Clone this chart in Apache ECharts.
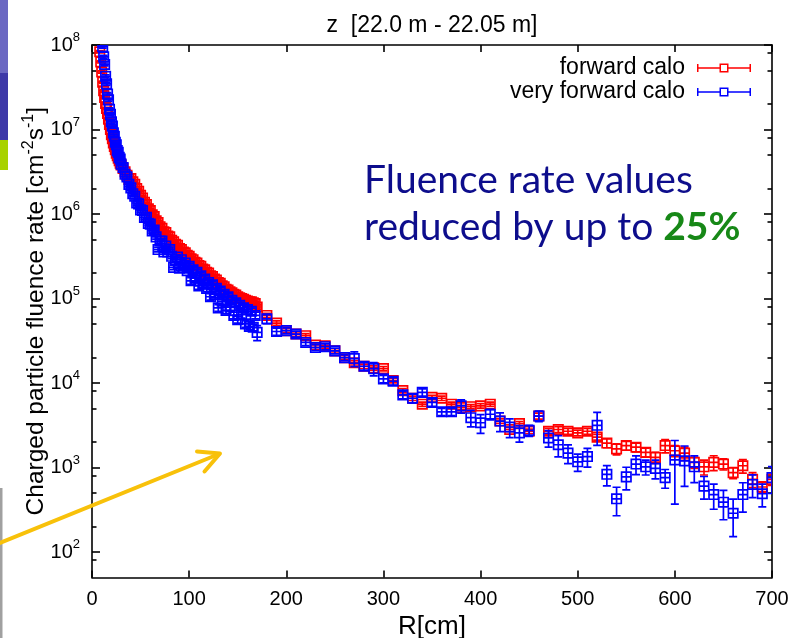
<!DOCTYPE html>
<html>
<head>
<meta charset="utf-8">
<script src="https://cdn.jsdelivr.net/npm/echarts@6/dist/echarts.min.js"></script>
<style>
  html, body { margin: 0; padding: 0; background: #fff; }
  #chart { width: 794px; height: 638px; }
</style>
</head>
<body>
<div id="chart"></div>
<script>
// Charged particle fluence rate vs radius, z in [22.0 m, 22.05 m]
// radius in cm, rate in cm^-2 s^-1, error as relative 1-sigma

const fwdR = [8, 9, 10, 11, 12, 13, 14, 15, 16, 17, 18, 19, 20, 21, 22, 23, 24, 25, 26, 27, 28, 29, 30,
  32, 34, 36, 38, 40, 42, 44, 46, 48, 50, 52, 54, 56, 58, 60, 62, 64, 66, 68, 70, 72, 74, 76, 78, 80,
  82, 84, 86, 88, 90, 92, 94, 96, 98, 100, 102, 104, 106, 108, 110, 112, 114, 116, 118, 120, 122, 124,
  126, 128, 130, 132, 134, 136, 138, 140, 142, 144, 146, 148, 150, 152, 154, 156, 158, 160, 162, 164, 166, 168,
  170, 180, 190, 200, 210, 220, 230, 240, 250, 260, 270, 280, 290, 300, 310, 320, 330, 340, 350, 360,
  370, 380, 390, 400, 410, 420, 430, 440, 450, 460, 470, 480, 490, 500, 510, 520, 530, 540, 550, 560,
  570, 580, 590, 600, 610, 620, 630, 640, 650, 660, 670, 680, 690, 700];

const fwdRate = [8.32e7, 6.31e7, 4.79e7, 3.63e7, 2.88e7, 2.40e7, 2.04e7, 1.78e7, 1.55e7, 1.32e7, 1.15e7, 1.00e7,
  8.71e6, 7.76e6, 6.92e6, 6.31e6, 5.75e6, 5.25e6, 4.90e6, 4.57e6, 4.27e6, 3.98e6, 3.80e6,
  3.47e6, 3.16e6, 2.88e6, 2.57e6, 2.63e6, 2.40e6, 2.24e6, 2.00e6, 1.86e6, 1.66e6, 1.55e6, 1.38e6, 1.29e6,
  1.15e6, 1.10e6, 9.77e5, 9.33e5, 8.32e5, 7.94e5, 7.08e5, 6.76e5, 6.17e5, 6.03e5, 5.50e5, 5.37e5,
  4.90e5, 4.68e5, 4.37e5, 4.27e5, 3.89e5, 3.80e5, 3.55e5, 3.47e5, 3.24e5, 3.16e5, 2.95e5, 2.88e5,
  2.69e5, 2.63e5, 2.45e5, 2.40e5, 2.24e5, 2.19e5, 2.04e5, 2.00e5, 1.86e5, 1.82e5, 1.70e5, 1.66e5,
  1.55e5, 1.51e5, 1.41e5, 1.38e5, 1.29e5, 1.26e5, 1.20e5, 1.17e5, 1.12e5, 1.10e5, 1.05e5, 1.02e5,
  1.00e5, 9.77e4, 9.55e4, 9.33e4, 9.12e4, 9.12e4, 8.91e4, 8.71e4,
  7.94e4, 6.31e4, 5.13e4, 4.17e4, 3.80e4, 3.63e4, 2.82e4, 2.75e4, 2.40e4, 2.00e4, 1.74e4, 1.58e4,
  1.51e4, 1.48e4, 1.07e4, 8.13e3, 6.61e3, 5.62e3, 6.76e3, 6.61e3, 5.62e3, 5.13e3, 5.25e3, 5.37e3,
  5.62e3, 3.55e3, 2.82e3, 3.31e3, 2.69e3, 4.07e3, 2.69e3, 2.82e3, 2.69e3, 2.57e3, 2.69e3, 2.29e3,
  1.95e3, 1.66e3, 1.82e3, 1.74e3, 1.51e3, 1.32e3, 1.82e3, 1.58e3, 1.48e3, 1.15e3, 1.02e3, 1.15e3,
  1.10e3, 871, 1.05e3, 724, 589, 724];

const fwdErr = [0.03, 0.03, 0.03, 0.03, 0.03, 0.03, 0.03, 0.03, 0.03, 0.03, 0.03, 0.03, 0.03, 0.03, 0.03,
  0.03, 0.03, 0.03, 0.03, 0.03, 0.03, 0.03, 0.03,
  0.05, 0.05, 0.05, 0.05, 0.05, 0.05, 0.05, 0.05, 0.05, 0.05, 0.05, 0.05, 0.05, 0.05, 0.05, 0.05, 0.05,
  0.05, 0.05, 0.05, 0.05, 0.05, 0.05, 0.05, 0.05, 0.05, 0.05, 0.05, 0.05, 0.05, 0.05, 0.05, 0.05, 0.05,
  0.06, 0.06, 0.06, 0.06, 0.06, 0.06, 0.06, 0.06, 0.06, 0.06, 0.06, 0.06, 0.06, 0.06, 0.06, 0.06, 0.06,
  0.06, 0.06, 0.06, 0.06, 0.06, 0.06, 0.06, 0.06, 0.06, 0.06, 0.06, 0.06, 0.06, 0.06, 0.06, 0.06, 0.06, 0.06,
  0.06, 0.06, 0.06, 0.06, 0.06, 0.06, 0.06, 0.06, 0.06, 0.06, 0.06, 0.06, 0.06, 0.06, 0.06, 0.06, 0.06,
  0.06, 0.06, 0.06, 0.06, 0.06, 0.06, 0.06, 0.06, 0.06, 0.06, 0.06, 0.06,
  0.08, 0.08, 0.08, 0.08, 0.08, 0.08, 0.08, 0.12, 0.15, 0.12, 0.12, 0.12, 0.15, 0.18, 0.15, 0.18, 0.15,
  0.2, 0.2, 0.15, 0.15, 0.18, 0.2, 0.15, 0.15];

const vfwdR = [11, 12, 13, 14, 15, 16, 17, 18, 19, 20, 21, 22, 23, 24, 25, 26, 27, 28, 29, 30,
  32, 34, 36, 38, 40, 42, 44, 46, 48, 50, 52, 54, 56, 58, 60, 62, 64, 66, 68, 70, 72, 74, 76, 78, 80,
  82, 84, 86, 88, 90, 92, 94, 96, 98, 100, 102, 104, 106, 108, 110, 112, 114, 116, 118, 120, 122, 124,
  126, 128, 130, 132, 134, 136, 138, 140, 142, 144, 146, 148, 150, 152, 154, 156, 158, 160, 162, 164, 166, 168,
  170, 180, 190, 200, 210, 220, 230, 240, 250, 260, 270, 280, 290, 300, 310, 320, 330, 340, 350, 360,
  370, 380, 390, 400, 410, 420, 430, 440, 450, 460, 470, 480, 490, 500, 510, 520, 530, 540, 550, 560,
  570, 580, 590, 600, 610, 620, 630, 640, 650, 660, 670, 680, 690, 700];

const vfwdRate = [9.55e7, 7.24e7, 5.89e7, 4.27e7, 3.47e7, 2.63e7, 2.24e7, 1.74e7, 1.51e7, 1.23e7, 1.10e7,
  9.12e6, 8.32e6, 7.08e6, 6.61e6, 5.62e6, 5.37e6, 4.68e6, 4.47e6, 3.89e6,
  3.55e6, 2.95e6, 2.75e6, 2.24e6, 2.04e6, 1.74e6, 1.62e6, 1.35e6, 1.32e6, 1.12e6,
  1.10e6, 9.12e5, 9.12e5, 7.76e5, 7.59e5, 6.31e5, 6.46e5, 5.37e5, 3.80e5, 4.79e5,
  4.79e5, 3.55e5, 4.17e5, 3.55e5, 3.80e5, 3.16e5, 2.34e5, 2.88e5, 3.09e5, 2.29e5,
  2.88e5, 2.34e5, 2.63e5, 2.14e5, 2.40e5, 1.62e5, 2.19e5, 1.74e5, 2.04e5, 1.41e5,
  1.86e5, 1.48e5, 1.70e5, 1.32e5, 1.55e5, 1.05e5, 1.45e5, 1.12e5, 1.32e5, 7.76e4,
  1.23e5, 9.33e4, 1.12e5, 7.24e4, 1.05e5, 7.94e4, 9.55e4, 6.31e4, 8.91e4, 5.62e4,
  8.32e4, 6.46e4, 7.76e4, 5.01e4, 7.41e4, 4.68e4, 7.08e4, 4.57e4, 6.31e4,
  3.98e4, 5.75e4, 4.07e4, 4.17e4, 3.80e4, 3.02e4, 2.63e4, 2.69e4, 2.40e4, 2.00e4, 1.95e4, 1.58e4,
  1.48e4, 1.12e4, 1.05e4, 7.24e3, 6.61e3, 7.76e3, 5.89e3, 4.57e3, 4.57e3, 5.37e3, 3.89e3, 3.39e3,
  4.27e3, 3.55e3, 3.02e3, 2.57e3, 2.75e3, 4.07e3, 2.24e3, 1.86e3, 1.48e3, 1.17e3, 1.35e3, 3.16e3,
  832, 427, 776, 1.10e3, 1.02e3, 977, 759, 1.23e3, 1.20e3, 1.02e3, 603, 479, 389, 288, 479, 631, 490, 759];

const vfwdErr = [0.04, 0.04, 0.04, 0.04, 0.04, 0.04, 0.04, 0.04, 0.04, 0.04, 0.04, 0.04, 0.04, 0.04, 0.04,
  0.04, 0.04, 0.04, 0.04, 0.04,
  0.06, 0.06, 0.06, 0.06, 0.06, 0.06, 0.06, 0.06, 0.06, 0.06, 0.06, 0.06, 0.06, 0.06, 0.06, 0.06, 0.06,
  0.06, 0.06, 0.06, 0.06, 0.06, 0.06, 0.06, 0.06, 0.06, 0.06, 0.06, 0.06, 0.06, 0.06, 0.06, 0.06, 0.06,
  0.09, 0.09, 0.09, 0.09, 0.09, 0.09, 0.09, 0.09, 0.09, 0.09, 0.09, 0.09, 0.09, 0.09, 0.09, 0.09, 0.09,
  0.09, 0.09, 0.09, 0.09, 0.09, 0.09, 0.09, 0.09, 0.09, 0.09, 0.09, 0.09, 0.09, 0.09, 0.09, 0.09, 0.09, 0.09,
  0.2, 0.12, 0.1, 0.08, 0.08, 0.08, 0.08, 0.08, 0.08, 0.08, 0.2, 0.1, 0.18, 0.1, 0.1, 0.1, 0.12, 0.1,
  0.1, 0.1, 0.1, 0.18, 0.22, 0.25, 0.14, 0.25, 0.25, 0.22, 0.15, 0.14, 0.22, 0.28, 0.25, 0.23, 0.25,
  0.42, 0.27, 0.37, 0.3, 0.25, 0.2, 0.25, 0.25, 0.7, 0.5, 0.35, 0.3, 0.33, 0.38, 0.47, 0.38, 0.3, 0.3, 0.35];

const seriesNames = ['forward calo', 'very forward calo'];
const seriesColors = ['#ff0000', '#0000ff'];

const xTicks = [0, 100, 200, 300, 400, 500, 600, 700];
const yDecades = [1e2, 1e3, 1e4, 1e5, 1e6, 1e7, 1e8];
const yMinorTicks = [80, 200, 500, 800, 2e3, 5e3, 8e3, 2e4, 5e4, 8e4, 2e5, 5e5, 8e5,
  2e6, 5e6, 8e6, 2e7, 5e7, 8e7];

const FONT = '"Liberation Sans", Arial, Helvetica, sans-serif';

function toPoints(r, rate, err) {
  const n = Math.min(r.length, rate.length, err.length);
  const out = [];
  for (let i = 0; i < n; i++) out.push([r[i], rate[i], rate[i] * err[i]]);
  return out;
}

// hollow square with xy error cross and capped vertical error bar
function errorBarRenderer(color) {
  return function (params, api) {
    const r = api.value(0), v = api.value(1), s = api.value(2);
    const c = api.coord([r, v]);
    const hi = api.coord([r, v + s]);
    const lo = api.coord([r, Math.max(v - s, 1)]);
    const h = 4.7, cap = 4;
    const st = { stroke: color, lineWidth: 1.7, fill: null };
    return {
      type: 'group',
      children: [
        { type: 'line', shape: { x1: c[0], y1: hi[1], x2: c[0], y2: lo[1] }, style: st },
        { type: 'line', shape: { x1: c[0] - cap, y1: hi[1], x2: c[0] + cap, y2: hi[1] }, style: st },
        { type: 'line', shape: { x1: c[0] - cap, y1: lo[1], x2: c[0] + cap, y2: lo[1] }, style: st },
        { type: 'line', shape: { x1: c[0] - h, y1: c[1], x2: c[0] + h, y2: c[1] }, style: st },
        { type: 'rect', shape: { x: c[0] - h, y: c[1] - h, width: 2 * h, height: 2 * h }, style: st }
      ]
    };
  };
}

const legendIcon = 'path://M0,1H1.5V9H0Z M0,4.25H22.5V5.75H0Z M22.5,0.5H31.5V9.5H22.5Z M24,2V8H30V2Z ' +
  'M31.5,4.25H54V5.75H31.5Z M52.5,1H54V9H52.5Z';

const axisLineStyle = { color: '#000', width: 1.6 };

function decadeLabel(val) {
  const n = Math.round(Math.log10(val));
  return '{b|10}{s|' + n + '}';
}

const chart = echarts.init(document.getElementById('chart'), null, { renderer: 'canvas' });

chart.setOption({
  animation: false,
  backgroundColor: '#fff',
  title: {
    text: 'z  [22.0 m - 22.05 m]',
    left: 427,
    textAlign: 'center',
    top: 9,
    textStyle: { fontFamily: FONT, fontSize: 23, fontWeight: 'normal', color: '#000' }
  },
  grid: { left: 92, right: 22, top: 45, bottom: 60.5, containLabel: false, outerBoundsMode: 'none' },
  legend: {
    orient: 'vertical',
    align: 'right',
    right: 38,
    top: 51,
    itemWidth: 54,
    itemHeight: 10,
    itemGap: 0,
    selectedMode: false,
    textStyle: { fontFamily: FONT, fontSize: 23, color: '#000', lineHeight: 24, padding: [0, 7, 0, 0] },
    data: [
      { name: seriesNames[0], icon: legendIcon },
      { name: seriesNames[1], icon: legendIcon }
    ]
  },
  xAxis: [
    {
      type: 'value', min: 0, max: 700, interval: 100, position: 'bottom',
      name: 'R[cm]', nameLocation: 'middle', nameGap: 36, nameMoveOverlap: false,
      nameTextStyle: { fontFamily: FONT, fontSize: 26, color: '#000' },
      axisLine: { show: true, lineStyle: axisLineStyle },
      axisTick: { show: true, inside: true, length: 7, lineStyle: axisLineStyle },
      axisLabel: { show: true, margin: 12, fontFamily: FONT, fontSize: 20, color: '#000' },
      splitLine: { show: false }
    },
    {
      type: 'value', min: 0, max: 700, interval: 100, position: 'top',
      axisLine: { show: true, lineStyle: axisLineStyle },
      axisTick: { show: true, inside: true, length: 7, lineStyle: axisLineStyle },
      axisLabel: { show: false },
      splitLine: { show: false }
    }
  ],
  yAxis: [
    {
      type: 'log', logBase: 10, min: 50, max: 1e8, position: 'left',
      name: '{a|Charged particle fluence rate [cm}{s|-2}{a|s}{s|-1}{a|]}',
      nameLocation: 'middle', nameGap: 41, nameRotate: 90, nameMoveOverlap: false,
      nameTextStyle: {
        color: '#000',
        rich: {
          a: { fontFamily: FONT, fontSize: 24.5, lineHeight: 30, color: '#000' },
          s: { fontFamily: FONT, fontSize: 16, lineHeight: 19, verticalAlign: 'top', color: '#000' }
        }
      },
      axisLine: { show: true, lineStyle: axisLineStyle },
      axisTick: { show: true, inside: true, length: 8, lineStyle: axisLineStyle, customValues: yDecades },
      axisLabel: {
        show: true, margin: 12, customValues: yDecades, formatter: decadeLabel,
        rich: {
          b: { fontFamily: FONT, fontSize: 20, lineHeight: 28, color: '#000' },
          s: { fontFamily: FONT, fontSize: 13, lineHeight: 16, verticalAlign: 'top', color: '#000' }
        }
      },
      splitLine: { show: false }
    },
    {
      type: 'log', logBase: 10, min: 50, max: 1e8, position: 'left',
      axisLine: { show: false },
      axisTick: { show: true, inside: true, length: 4.5, lineStyle: axisLineStyle, customValues: yMinorTicks },
      axisLabel: { show: false },
      splitLine: { show: false }
    },
    {
      type: 'log', logBase: 10, min: 50, max: 1e8, position: 'right',
      axisLine: { show: true, lineStyle: axisLineStyle },
      axisTick: { show: true, inside: true, length: 8, lineStyle: axisLineStyle, customValues: yDecades },
      axisLabel: { show: false },
      splitLine: { show: false }
    },
    {
      type: 'log', logBase: 10, min: 50, max: 1e8, position: 'right',
      axisLine: { show: false },
      axisTick: { show: true, inside: true, length: 4.5, lineStyle: axisLineStyle, customValues: yMinorTicks },
      axisLabel: { show: false },
      splitLine: { show: false }
    }
  ],
  series: [
    {
      name: seriesNames[0],
      type: 'custom',
      xAxisIndex: 0, yAxisIndex: 0,
      clip: true,
      itemStyle: { color: seriesColors[0] },
      renderItem: errorBarRenderer(seriesColors[0]),
      encode: { x: 0, y: 1 },
      data: toPoints(fwdR, fwdRate, fwdErr)
    },
    {
      name: seriesNames[1],
      type: 'custom',
      xAxisIndex: 0, yAxisIndex: 0,
      clip: true,
      itemStyle: { color: seriesColors[1] },
      renderItem: errorBarRenderer(seriesColors[1]),
      encode: { x: 0, y: 1 },
      data: toPoints(vfwdR, vfwdRate, vfwdErr)
    }
  ],
  graphic: [
    // slide accent bars along the left edge
    { type: 'rect', shape: { x: 0, y: 0, width: 8, height: 73 }, style: { fill: '#6b68c2' }, silent: true },
    { type: 'rect', shape: { x: 0, y: 73, width: 8, height: 67 }, style: { fill: '#3e39a8' }, silent: true },
    { type: 'rect', shape: { x: 0, y: 140, width: 8, height: 30 }, style: { fill: '#a8d200' }, silent: true },
    { type: 'rect', shape: { x: 0, y: 488, width: 2.5, height: 150 }, style: { fill: '#a0a0a0' }, silent: true },
    // pointer arrow
    {
      type: 'line', silent: true, z: 100,
      shape: { x1: 0, y1: 543, x2: 219, y2: 454 },
      style: { stroke: '#f8c10a', lineWidth: 4, lineCap: 'round' }
    },
    {
      type: 'polyline', silent: true, z: 100,
      shape: { points: [[197, 451.5], [220, 453.5], [204.5, 471.5]] },
      style: { stroke: '#f8c10a', lineWidth: 4, lineCap: 'round', lineJoin: 'round', fill: null }
    },
    // annotation
    {
      type: 'text', silent: true, z: 100,
      left: 364, top: 161,
      style: {
        text: '{a|Fluence rate values}\n{a|reduced by up to }{g|25%}',
        rich: {
          a: { fontFamily: 'Lato, "Open Sans", sans-serif', fontSize: 39, lineHeight: 47, fill: '#0d0d8c' },
          g: { fontFamily: 'Lato, "Open Sans", sans-serif', fontSize: 39, lineHeight: 47, fontWeight: 'bold', fill: '#178817' }
        }
      }
    }
  ]
});
</script>
</body>
</html>
